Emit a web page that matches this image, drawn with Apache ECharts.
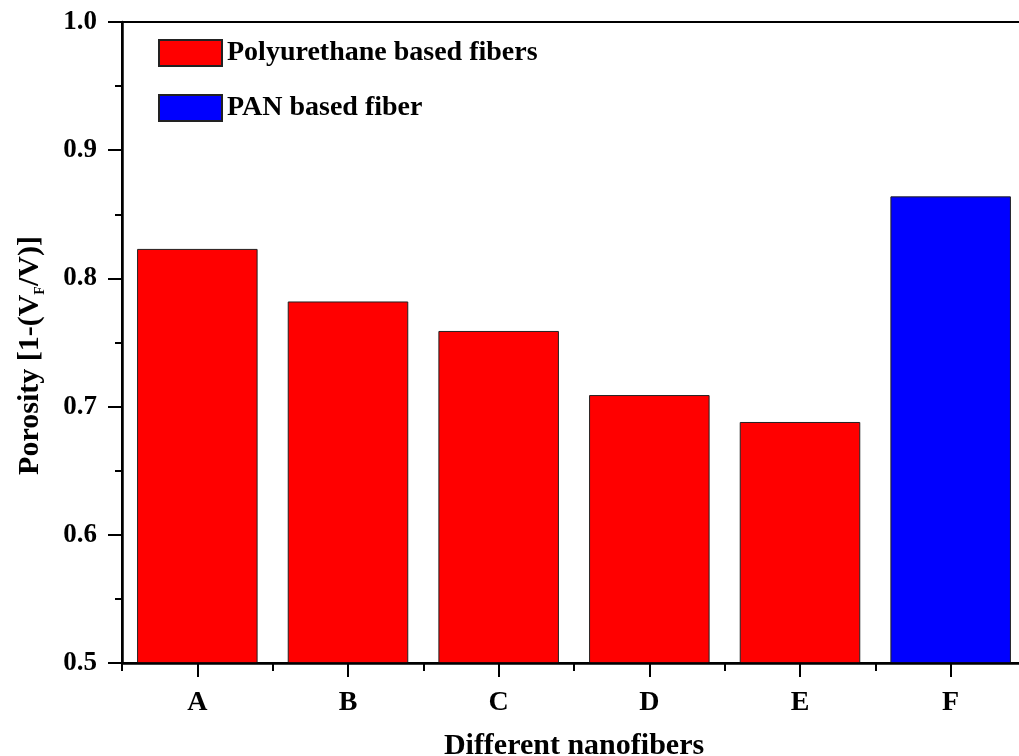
<!DOCTYPE html>
<html>
<head>
<meta charset="utf-8">
<script src="https://cdn.jsdelivr.net/npm/echarts@6/dist/echarts.min.js"></script>
<style>
  html, body { margin: 0; padding: 0; background: #fff; }
  #main { width: 1019px; height: 756px; }
</style>
</head>
<body>
<div id="main"></div>
<script>
// 数据
var categories = ['A', 'B', 'C', 'D', 'E', 'F'];
var puValues = [0.823, 0.782, 0.759, 0.709, 0.688, '-'];
var panValues = ['-', '-', '-', '-', '-', 0.864];

var FONT = 'Liberation Serif';

var myChart = echarts.init(document.getElementById('main'));

var option = {
  backgroundColor: '#fff',
  animation: false,
  grid: {
    left: 122,
    top: 22,
    width: 904,
    height: 641,
    outerBoundsMode: 'none',
    containLabel: false,
    show: true,
    borderColor: '#000',
    borderWidth: 2
  },
  legend: {
    orient: 'vertical',
    left: 153,
    top: 34,
    itemWidth: 63,
    itemHeight: 26,
    itemGap: 27,
    icon: 'rect',
    textStyle: { fontFamily: FONT, fontWeight: 'bold', fontSize: 28, color: '#000' },
    data: ['Polyurethane based fibers', 'PAN based fiber']
  },
  xAxis: [
    {
      type: 'category',
      data: categories,
      position: 'bottom',
      name: 'Different nanofibers',
      nameLocation: 'middle',
      nameGap: 68,
      nameTextStyle: { fontFamily: FONT, fontWeight: 'bold', fontSize: 30, color: '#000' },
      axisLine: { show: true, lineStyle: { color: '#000', width: 2.5 } },
      axisTick: { show: true, alignWithLabel: true, inside: false, length: 14, lineStyle: { color: '#000', width: 2 } },
      axisLabel: { fontFamily: FONT, fontWeight: 'bold', fontSize: 28, color: '#000', margin: 26 },
      splitLine: { show: false },
      z: 10
    },
    {
      // 分类边界的短刻度
      type: 'category',
      data: categories,
      position: 'bottom',
      offset: 0,
      axisLine: { show: false },
      axisTick: { show: true, alignWithLabel: false, inside: false, length: 8, lineStyle: { color: '#000', width: 2 } },
      axisLabel: { show: false },
      splitLine: { show: false },
      z: 10
    }
  ],
  yAxis: {
    type: 'value',
    min: 0.5,
    max: 1.0,
    interval: 0.1,
    name: '{a|Porosity [1-(V}{s|F}{a|/V)]}',
    nameLocation: 'middle',
    nameGap: 75,
    nameTextStyle: {
      padding: [0, 26, 0, 0],
      rich: {
        a: { fontFamily: FONT, fontWeight: 'bold', fontSize: 30, color: '#000', lineHeight: 34 },
        s: { fontFamily: FONT, fontWeight: 'bold', fontSize: 14, color: '#000', lineHeight: 34, verticalAlign: 'bottom', padding: [12, 0, 0, 0] }
      }
    },
    axisLine: { show: true, lineStyle: { color: '#000', width: 2.5 } },
    axisTick: { show: true, inside: false, length: 14, lineStyle: { color: '#000', width: 2 } },
    minorTick: { show: true, splitNumber: 2, length: 7, lineStyle: { color: '#000', width: 2 } },
    axisLabel: {
      fontFamily: FONT, fontWeight: 'bold', fontSize: 27, color: '#000', margin: 25,
      formatter: function (v) { return v.toFixed(1); }
    },
    splitLine: { show: false }
  },
  series: [
    {
      name: 'Polyurethane based fibers',
      type: 'bar',
      data: puValues,
      barCategoryGap: '20%',
      barGap: '-100%',
      itemStyle: { color: '#ff0000', borderColor: '#222', borderWidth: 1 }
    },
    {
      name: 'PAN based fiber',
      type: 'bar',
      data: panValues,
      barCategoryGap: '20%',
      barGap: '-100%',
      itemStyle: { color: '#0000ff', borderColor: '#222', borderWidth: 1 }
    }
  ]
};

myChart.setOption(option);
</script>
</body>
</html>
